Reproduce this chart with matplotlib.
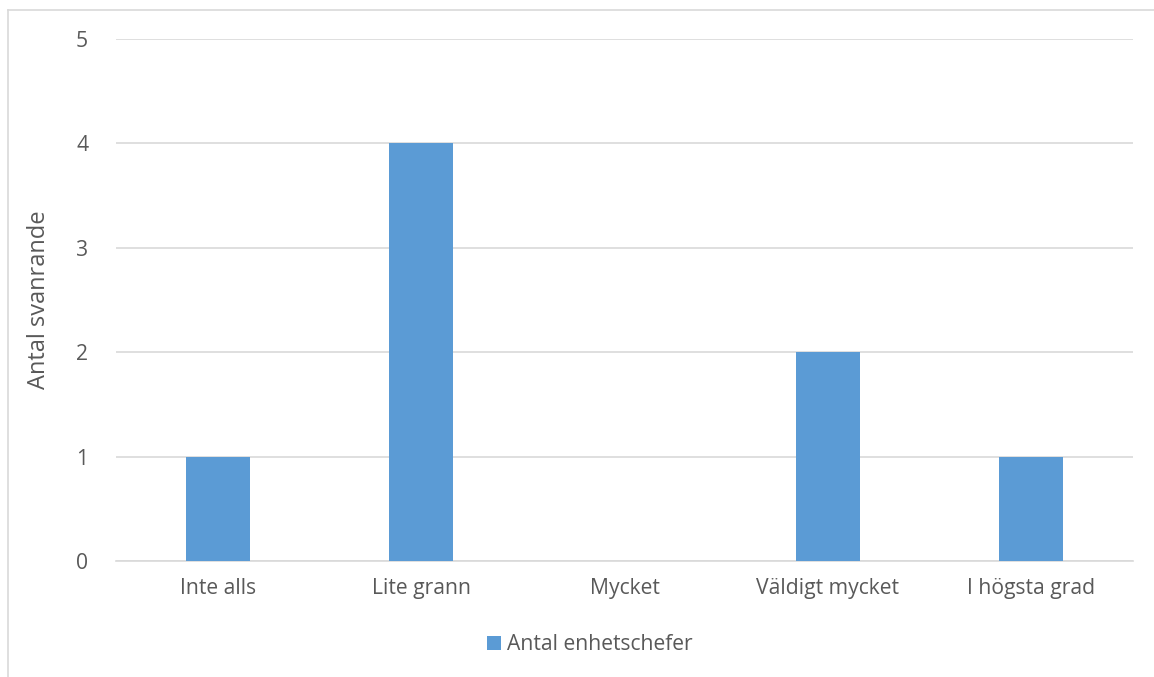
import numpy as np
import matplotlib.pyplot as plt
from matplotlib.lines import Line2D

# svarsfördelning per kategori
kategorier = ["Inte alls", "Lite grann", "Mycket", "Väldigt mycket", "I högsta grad"]
antal = [1, 4, 0, 2, 1]
serie_namn = "Antal enhetschefer"
y_ticks = [0, 1, 2, 3, 4, 5]

blue = "#5B9BD5"
grid_col = "#D9D9D9"
txt_col = "#595959"

plt.rcParams['font.family'] = ['Open Sans', 'DejaVu Sans']

fig = plt.figure(figsize=(11.54, 6.77), dpi=100)
W, H = 1154, 677
ax = fig.add_axes([116 / W, 1 - 561 / H, (1133 - 116) / W, (561 - 39) / H])

x = np.arange(len(kategorier))
ax.bar(x, antal, width=0.315, color=blue, label=serie_namn, zorder=3)

ax.set_xlim(-0.5, len(kategorier) - 0.5)
ax.set_ylim(0, 5)
ax.set_yticks(y_ticks)
ax.set_xticks(x)
ax.set_xticklabels(kategorier)
ax.yaxis.grid(True, color=grid_col, linewidth=1.2, zorder=0)
ax.tick_params(axis='both', length=0, labelsize=15.2, labelcolor=txt_col)
ax.tick_params(axis='y', pad=20)
ax.tick_params(axis='x', pad=12)
for s in ['top', 'right', 'left']:
    ax.spines[s].set_visible(False)
ax.spines['bottom'].set_color(grid_col)
ax.spines['bottom'].set_linewidth(1.2)

ax.set_ylabel("Antal svanrande", fontsize=17, color=txt_col, labelpad=18)

leg = fig.legend(loc='center', bbox_to_anchor=(590 / W, 1 - 645 / H), frameon=False,
                 fontsize=15.2, handlelength=0.65, handleheight=0.65, handletextpad=0.3)
for t in leg.get_texts():
    t.set_color(txt_col)

# ramen runt diagrammet
fig.add_artist(Line2D([7.5 / W, 1], [1 - 9.5 / H, 1 - 9.5 / H], color=grid_col, lw=1.2))
fig.add_artist(Line2D([7.5 / W, 7.5 / W], [0, 1 - 9.5 / H], color=grid_col, lw=1.2))

fig.savefig("out.png", dpi=100, facecolor="white")
